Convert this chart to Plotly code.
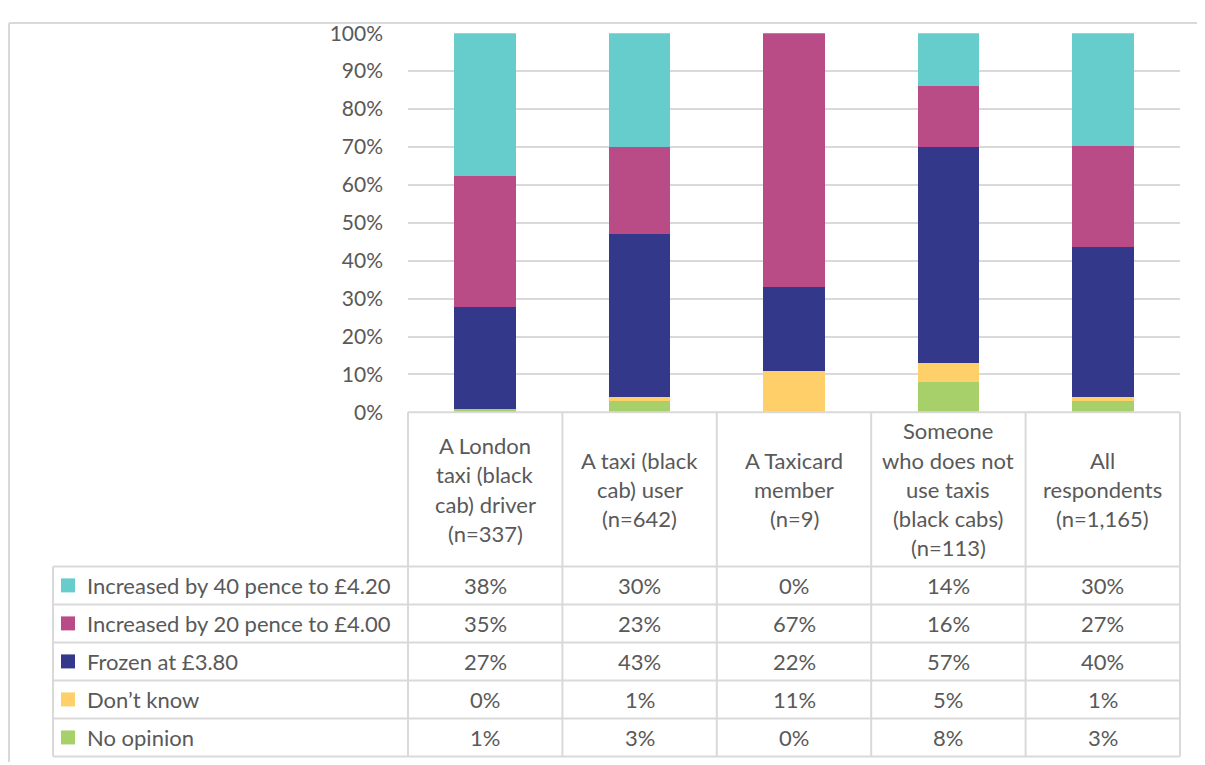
import plotly.graph_objects as go

# target picture is 1205x765; the page body has an 8px margin
PAGE_W, PAGE_H = 1205, 765
OFF_X = 8
W, H = PAGE_W - 2 * OFF_X, 765
# observed vertical placement of the figure in the photographed page
OFF_Y, SCALE_Y = 21.8, 0.967

categories = ["A London taxi (black cab) driver (n=337)",
              "A taxi (black cab) user (n=642)",
              "A Taxicard member (n=9)",
              "Someone who does not use taxis (black cabs) (n=113)",
              "All respondents (n=1,165)"]
header_lines = [["A London", "taxi (black", "cab) driver", "(n=337)"],
                ["A taxi (black", "cab) user", "(n=642)"],
                ["A Taxicard", "member", "(n=9)"],
                ["Someone", "who does not", "use taxis", "(black cabs)", "(n=113)"],
                ["All", "respondents", "(n=1,165)"]]

series_names = ["Increased by 40 pence to £4.20",
                "Increased by 20 pence to £4.00",
                "Frozen at £3.80",
                "Don\u2019t know",
                "No opinion"]
increased_40 = [38, 30, 0, 14, 30]
increased_20 = [35, 23, 67, 16, 27]
frozen = [27, 43, 22, 57, 40]
dont_know = [0, 1, 11, 5, 1]
no_opinion = [1, 3, 0, 8, 3]
series_values = [increased_40, increased_20, frozen, dont_know, no_opinion]
colors = ["#66CDCC", "#B94B87", "#33388A", "#FFD06A", "#A7D06A"]

yticks = [0, 10, 20, 30, 40, 50, 60, 70, 80, 90, 100]

FONT = "Lato"
TXT = "#595959"
GRID = "#D9D9D9"
FS = 22

def X(px):
    return min(max((px - OFF_X) / W, 0.0), 1.0)

def Y(py):
    fy = (py - OFF_Y) / SCALE_Y
    return min(max(1 - fy / H, 0.0), 1.0)

plot_l, plot_r = 408, 1180
plot_t, plot_b = 33, 412
header_b = 566
row_h = 38
table_l = 53
ncol = len(categories)
col_w = (plot_r - plot_l) / ncol

fig = go.Figure()
idx = list(range(ncol))
for name, vals, col in reversed(list(zip(series_names, series_values, colors))):
    fig.add_trace(go.Bar(x=idx, y=vals, name=name, marker=dict(color=col, line=dict(width=0)),
                         width=0.4, showlegend=False, hoverinfo="skip"))

shapes = []
annotations = []

def line(x0, y0, x1, y1, w=2):
    shapes.append(dict(type="line", xref="paper", yref="paper", x0=X(x0), y0=Y(y0),
                       x1=X(x1), y1=Y(y1), line=dict(color=GRID, width=w)))

# outer chart border, kept inside the figure
line(9, 0, PAGE_W, 0)
line(9, 0, 9, PAGE_H)
# nudge the top border just inside the figure edge
shapes[0]["y0"] = shapes[0]["y1"] = 0.9985
shapes[1]["y0"] = 0.9985

line(plot_l, plot_b, plot_r, plot_b)
for i in range(ncol + 1):
    xx = plot_l + i * col_w
    line(xx, plot_b, xx, header_b)
nrows = len(series_names)
for r in range(nrows + 1):
    yy = header_b + r * row_h
    line(table_l, yy, plot_r, yy)
for xx in [table_l] + [plot_l + i * col_w for i in range(ncol + 1)]:
    line(xx, header_b, xx, header_b + nrows * row_h)

hc = (plot_b + header_b) / 2
lh = 29.3
for i, lines in enumerate(header_lines):
    cx = plot_l + (i + 0.5) * col_w
    n = len(lines)
    for k, t in enumerate(lines):
        cy = hc + (k - (n - 1) / 2) * lh
        annotations.append(dict(x=X(cx), y=Y(cy), xref="paper", yref="paper", text=t,
                                showarrow=False, xanchor="center", yanchor="middle",
                                font=dict(family=FONT, size=FS, color=TXT)))

for r, (name, vals, col) in enumerate(zip(series_names, series_values, colors)):
    cy = header_b + (r + 0.5) * row_h
    shapes.append(dict(type="rect", xref="paper", yref="paper", x0=X(61), x1=X(75),
                       y0=Y(cy - 7), y1=Y(cy + 7), fillcolor=col, line=dict(width=0)))
    annotations.append(dict(x=X(85), y=Y(cy), xref="paper", yref="paper", text=name,
                            showarrow=False, xanchor="left", yanchor="middle",
                            font=dict(family=FONT, size=FS, color=TXT)))
    for i, v in enumerate(vals):
        cx = plot_l + (i + 0.5) * col_w
        annotations.append(dict(x=X(cx), y=Y(cy), xref="paper", yref="paper", text=f"{v}%",
                                showarrow=False, xanchor="center", yanchor="middle",
                                font=dict(family=FONT, size=FS, color=TXT)))

fig.update_layout(
    width=W, height=H, autosize=False,
    margin=dict(l=0, r=0, t=0, b=0),
    paper_bgcolor="white", plot_bgcolor="white",
    barmode="stack", barnorm="percent",
    xaxis=dict(domain=[X(plot_l), X(plot_r)], range=[-0.5, ncol - 0.5], showticklabels=False,
               showgrid=False, zeroline=False, showline=False, fixedrange=True),
    yaxis=dict(domain=[Y(plot_b), Y(plot_t)], range=[0, 100], tickvals=yticks,
               ticktext=[f"{t}%" for t in yticks], showgrid=True, gridcolor=GRID, gridwidth=2,
               zeroline=False, showline=False, ticks="", ticklabelstandoff=24,
               ticklabeloverflow="allow",
               tickfont=dict(family=FONT, size=21, color=TXT)),
    shapes=shapes, annotations=annotations,
)

fig.write_html("out.html")
